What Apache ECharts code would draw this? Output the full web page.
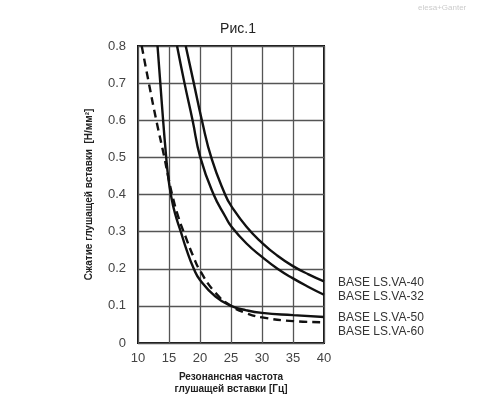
<!DOCTYPE html>
<html>
<head>
<meta charset="utf-8">
<script src="https://cdn.jsdelivr.net/npm/echarts@6/dist/echarts.min.js"></script>
<style>
  html, body { margin: 0; padding: 0; background: #fff; }
  #chart { width: 500px; height: 400px; }
</style>
</head>
<body>
<div id="chart"></div>
<script>
  // values
  var xTicks = [10, 15, 20, 25, 30, 35, 40];
  var yTicks = [0, 0.1, 0.2, 0.3, 0.4, 0.5, 0.6, 0.7, 0.8];

  var va40X = [17.7, 19.0, 20.3, 21.9, 24.1, 25, 27.5, 30, 32.5, 35, 37.5, 40];
  var va40Y = [0.8, 0.7, 0.6, 0.495, 0.398, 0.37, 0.313, 0.27, 0.235, 0.207, 0.185, 0.166];

  var va32X = [16.3, 17.5, 18.8, 20.05, 22.2, 24.1, 25, 27.5, 30, 32.5, 35, 37.5, 40];
  var va32Y = [0.8, 0.7, 0.6, 0.5, 0.4, 0.34, 0.315, 0.268, 0.232, 0.2, 0.174, 0.151, 0.13];

  var va50X = [13.15, 13.6, 14.05, 14.55, 14.85, 15.3, 15.95, 16.9, 17.85, 19.0, 20, 22.5, 25, 27.5, 30, 35, 40];
  var va50Y = [0.8, 0.7, 0.6, 0.5, 0.45, 0.4, 0.35, 0.3, 0.25, 0.2, 0.17, 0.125, 0.1, 0.088, 0.081, 0.075, 0.07];

  var va60X = [10.6, 11.75, 12.95, 14.25, 14.85, 15.5, 16.5, 17.7, 19.0, 20, 22.5, 25, 27.5, 30, 35, 40];
  var va60Y = [0.8, 0.7, 0.6, 0.5, 0.45, 0.4, 0.34, 0.285, 0.23, 0.195, 0.135, 0.1, 0.08, 0.069, 0.059, 0.056];

  function pairs(xs, ys) {
    return xs.map(function (x, i) { return [x, ys[i]]; });
  }

  var font = 'Liberation Sans, Arial, sans-serif';

  function curve(name, xs, ys, dashed, dy) {
    return {
      name: name,
      type: 'line',
      data: pairs(xs, ys),
      smooth: 0.5,
      showSymbol: false,
      lineStyle: { color: '#111', width: 2.4, type: dashed ? [8, 5] : 'solid' },
      endLabel: {
        show: true,
        formatter: name,
        color: '#333',
        fontSize: 12,
        fontFamily: font,
        offset: [6, dy]
      },
      z: 3
    };
  }

  var myChart = echarts.init(document.getElementById('chart'));
  var option = {
    backgroundColor: '#fff',
    animation: false,
    title: {
      text: 'Рис.1',
      left: 233,
      top: 17,
      textAlign: 'center',
      textStyle: { fontSize: 14, fontWeight: 'normal', color: '#222', fontFamily: font }
    },
    graphic: [{
      type: 'text',
      left: 418,
      top: 4,
      style: { text: 'elesa+Ganter', fontSize: 8, fill: '#ccc', fontFamily: font }
    }],
    grid: {
      left: 138, right: 176, top: 46, bottom: 57,
      show: true, borderColor: '#111', borderWidth: 2
    },
    xAxis: {
      type: 'value',
      min: xTicks[0], max: xTicks[xTicks.length - 1], interval: 5,
      name: 'Резонансная частота\nглушащей вставки [Гц]',
      nameLocation: 'middle',
      nameGap: 28,
      nameTextStyle: { fontSize: 10, fontWeight: 'bold', color: '#222', lineHeight: 12, fontFamily: font },
      axisLine: { show: false },
      axisTick: { show: false },
      axisLabel: { color: '#444', fontSize: 13, margin: 9, fontFamily: font },
      splitLine: { lineStyle: { color: '#555', width: 1.3 } }
    },
    yAxis: {
      type: 'value',
      min: yTicks[0], max: yTicks[yTicks.length - 1], interval: 0.1,
      name: 'Сжатие глушащей вставки  [Н/мм²]',
      nameLocation: 'middle',
      nameGap: 44,
      nameTextStyle: { fontSize: 10, fontWeight: 'bold', color: '#222', fontFamily: font },
      axisLine: { show: false },
      axisTick: { show: false },
      axisLabel: {
        color: '#444', fontSize: 13, margin: 12, fontFamily: font,
        formatter: function (v) { return v === 0 ? '0' : v.toFixed(1); }
      },
      splitLine: { lineStyle: { color: '#555', width: 1.3 } }
    },
    series: [
      curve('BASE LS.VA-40', va40X, va40Y, false, 1),
      curve('BASE LS.VA-32', va32X, va32Y, false, 2),
      curve('BASE LS.VA-50', va50X, va50Y, false, 1),
      curve('BASE LS.VA-60', va60X, va60Y, true, 9)
    ]
  };
  myChart.setOption(option, true);
</script>
</body>
</html>
